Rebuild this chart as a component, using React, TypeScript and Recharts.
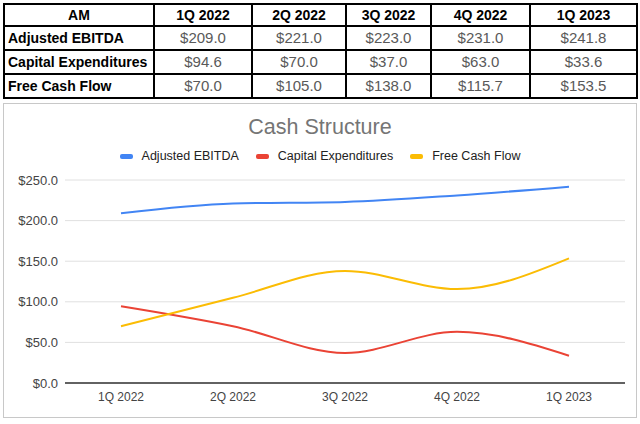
import React from "react";
import { LineChart, Line, XAxis, YAxis, CartesianGrid } from "recharts";

const quarters = ["1Q 2022", "2Q 2022", "3Q 2022", "4Q 2022", "1Q 2023"];
const adjustedEbitda = [209.0, 221.0, 223.0, 231.0, 241.8];
const capex = [94.6, 70.0, 37.0, 63.0, 33.6];
const freeCashFlow = [70.0, 105.0, 138.0, 115.7, 153.5];
const yTicks = [0, 50, 100, 150, 200, 250];

const series = [
  { key: "ebitda", name: "Adjusted EBITDA", values: adjustedEbitda, color: "#4285f4" },
  { key: "capex", name: "Capital Expenditures", values: capex, color: "#ea4335" },
  { key: "fcf", name: "Free Cash Flow", values: freeCashFlow, color: "#fbbc04" },
];

const data = quarters.map((q, i) => ({
  quarter: q,
  ebitda: adjustedEbitda[i],
  capex: capex[i],
  fcf: freeCashFlow[i],
}));

const money = (v: number) => "$" + v.toFixed(1);

const colWidths = [150, 98, 94, 85, 99, 107];
const FONT = "Arial, 'Liberation Sans', Helvetica, sans-serif";

const cell: React.CSSProperties = {
  border: "2px solid #000",
  padding: 0,
  height: 22,
  fontFamily: FONT,
  lineHeight: "20px",
};

function SummaryTable() {
  return (
    <table
      style={{
        position: "absolute",
        left: 3,
        top: 3,
        width: 634,
        borderCollapse: "collapse",
        tableLayout: "fixed",
      }}
    >
      <colgroup>
        {colWidths.map((w, i) => (
          <col key={i} style={{ width: w }} />
        ))}
      </colgroup>
      <tbody>
        <tr>
          <td style={{ ...cell, height: 20, fontWeight: "bold", fontSize: 14, textAlign: "center", color: "#000" }}>AM</td>
          {quarters.map((q) => (
            <td key={q} style={{ ...cell, height: 20, fontWeight: "bold", fontSize: 14, textAlign: "center", color: "#000" }}>
              {q}
            </td>
          ))}
        </tr>
        {series.map((s) => (
          <tr key={s.key}>
            <td style={{ ...cell, fontWeight: "bold", fontSize: 14, paddingLeft: 3, color: "#000" }}>{s.name}</td>
            {s.values.map((v, i) => (
              <td key={i} style={{ ...cell, fontSize: 15, textAlign: "center", color: "#595959" }}>
                {money(v)}
              </td>
            ))}
          </tr>
        ))}
      </tbody>
    </table>
  );
}

function LegendRow() {
  return (
    <div
      style={{
        position: "absolute",
        left: 0,
        right: 0,
        top: 45,
        display: "flex",
        justifyContent: "center",
        gap: 17,
        fontFamily: FONT,
        fontSize: 12.5,
        color: "#222",
      }}
    >
      {series.map((s) => (
        <div key={s.key} style={{ display: "flex", alignItems: "center" }}>
          <span
            style={{
              display: "inline-block",
              width: 13,
              height: 5,
              borderRadius: 2,
              background: s.color,
              marginRight: 9,
            }}
          />
          {s.name}
        </div>
      ))}
    </div>
  );
}

export default function App() {
  return (
    <div
      style={{
        position: "absolute",
        left: 0,
        top: 0,
        width: 640,
        height: 424,
        background: "#fff",
        overflow: "hidden",
      }}
    >
      <SummaryTable />
      <div
        style={{
          position: "absolute",
          left: 3,
          top: 103,
          width: 632,
          height: 313,
          border: "1px solid #c8c8c8",
          background: "#fff",
        }}
      >
        <div
          style={{
            position: "absolute",
            left: 0,
            right: 0,
            top: 11,
            textAlign: "center",
            fontFamily: FONT,
            fontSize: 21.5,
            color: "#757575",
          }}
        >
          Cash Structure
        </div>
        <LegendRow />
        <LineChart
          width={632}
          height={313}
          data={data}
          margin={{ top: 76, right: 11, bottom: 4, left: 0 }}
        >
          <CartesianGrid vertical={false} stroke="#e0e0e0" strokeWidth={1} />
          <XAxis
            dataKey="quarter"
            padding={{ left: 56, right: 56 }}
            axisLine={{ stroke: "#333", strokeWidth: 1.5 }}
            tickLine={false}
            tickSize={0}
            tickMargin={9}
            height={30}
            tick={{ fontSize: 12, fill: "#444", fontFamily: FONT }}
          />
          <YAxis
            domain={[0, 250]}
            ticks={yTicks}
            tickFormatter={money}
            axisLine={false}
            tickLine={false}
            tickSize={0}
            tickMargin={7}
            width={61}
            tick={{ fontSize: 13, fill: "#444", fontFamily: FONT }}
          />
          {series.map((s) => (
            <Line
              key={s.key}
              type="monotone"
              dataKey={s.key}
              name={s.name}
              stroke={s.color}
              strokeWidth={2}
              dot={false}
              isAnimationActive={false}
            />
          ))}
        </LineChart>
      </div>
    </div>
  );
}
